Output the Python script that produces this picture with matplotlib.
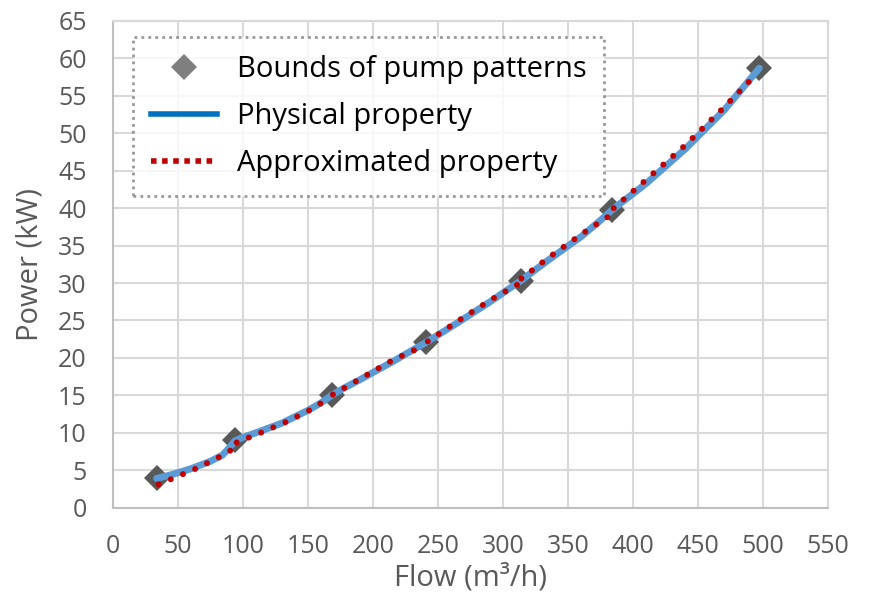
import matplotlib.pyplot as plt
from matplotlib.lines import Line2D

plt.rcParams['font.family'] = ['Open Sans', 'DejaVu Sans']

# pump pattern bounds
bound_flow = [33.5, 93.5, 168, 241, 313.5, 384, 497]
bound_power = [3.9, 9.0, 15.0, 22.1, 30.3, 39.8, 58.7]

# physical property curve
phys_flow = [33.5, 45, 60, 75, 84, 89, 93.5, 100, 110, 130, 150, 160, 168, 178,
             190, 215, 241, 265, 290, 305, 313.5, 335, 360, 375, 384, 410, 440,
             470, 497]
phys_power = [3.9, 4.4, 5.2, 6.2, 7.0, 7.9, 8.9, 9.4, 10.0, 11.3, 13.0, 14.0,
              15.0, 16.0, 17.1, 19.5, 22.1, 24.7, 27.5, 29.3, 30.3, 33.1, 36.2,
              38.4, 39.8, 43.3, 47.9, 53.1, 58.7]

# approximated property, one piece per pump pattern
approx_flow = [
    [35, 50, 65, 80, 94],
    [95, 115, 135, 150, 166],
    [169, 190, 215, 240],
    [242, 265, 290, 312],
    [314, 335, 360, 382],
    [385, 410, 440, 470, 493],
]
approx_power = [
    [3.1, 4.2, 5.3, 6.6, 8.0],
    [8.7, 10.1, 11.6, 12.9, 14.6],
    [15.1, 17.2, 19.7, 21.7],
    [22.2, 24.9, 27.7, 29.9],
    [30.6, 33.4, 36.5, 39.0],
    [40.0, 43.8, 48.4, 53.5, 57.6],
]

fig, ax = plt.subplots(figsize=(8.7, 6), dpi=100)
fig.subplots_adjust(left=0.13, right=0.952, bottom=0.154, top=0.965)

ax.plot(phys_flow, phys_power, color='#5b9bd5', lw=5, solid_capstyle='round',
        solid_joinstyle='round', zorder=3)
ax.plot(bound_flow, bound_power, ls='none', marker='D', ms=13, color='#595959',
        markeredgewidth=0, zorder=2)
for fx, py in zip(approx_flow, approx_power):
    ax.plot(fx, py, color='#c00000', lw=4.3, ls=(0, (0.01, 2.2)),
            dash_capstyle='round', zorder=4)

ax.set_xlim(0, 550)
ax.set_ylim(0, 65)
ax.set_xticks(range(0, 551, 50))
ax.set_yticks(range(0, 66, 5))
ax.grid(True, color='#d9d9d9', lw=1.5)
ax.set_axisbelow(True)
for s in ax.spines.values():
    s.set_color('#d9d9d9')
    s.set_linewidth(1.5)
ax.spines['left'].set_color('#bfbfbf')
ax.spines['bottom'].set_color('#bfbfbf')
ax.tick_params(length=0, labelsize=18, labelcolor='#595959')
ax.tick_params(axis='x', pad=19)
ax.tick_params(axis='y', pad=19)
ax.set_xlabel('Flow (m\u00b3/h)', fontsize=21, color='#595959', labelpad=3)
ax.set_ylabel('Power (kW)', fontsize=21, color='#595959', labelpad=10)

handles = [
    Line2D([], [], ls='none', marker='D', ms=13, color='#7f7f7f', markeredgewidth=0),
    Line2D([], [], color='#0070c0', lw=4),
    Line2D([], [], color='#c00000', lw=4, ls=(0, (1, 1))),
]
labels = ['Bounds of pump patterns', 'Physical property', 'Approximated property']
leg = ax.legend(handles, labels, loc='upper left', bbox_to_anchor=(0.028, 0.967),
                fontsize=21, frameon=True, fancybox=False, handlelength=2.25,
                borderpad=0.62, labelspacing=0.62, handletextpad=0.68,
                borderaxespad=0)
fr = leg.get_frame()
fr.set_edgecolor('#7f7f7f')
fr.set_linestyle((0, (1, 1.5)))
fr.set_linewidth(2)

fig.savefig('out.png', dpi=100)
